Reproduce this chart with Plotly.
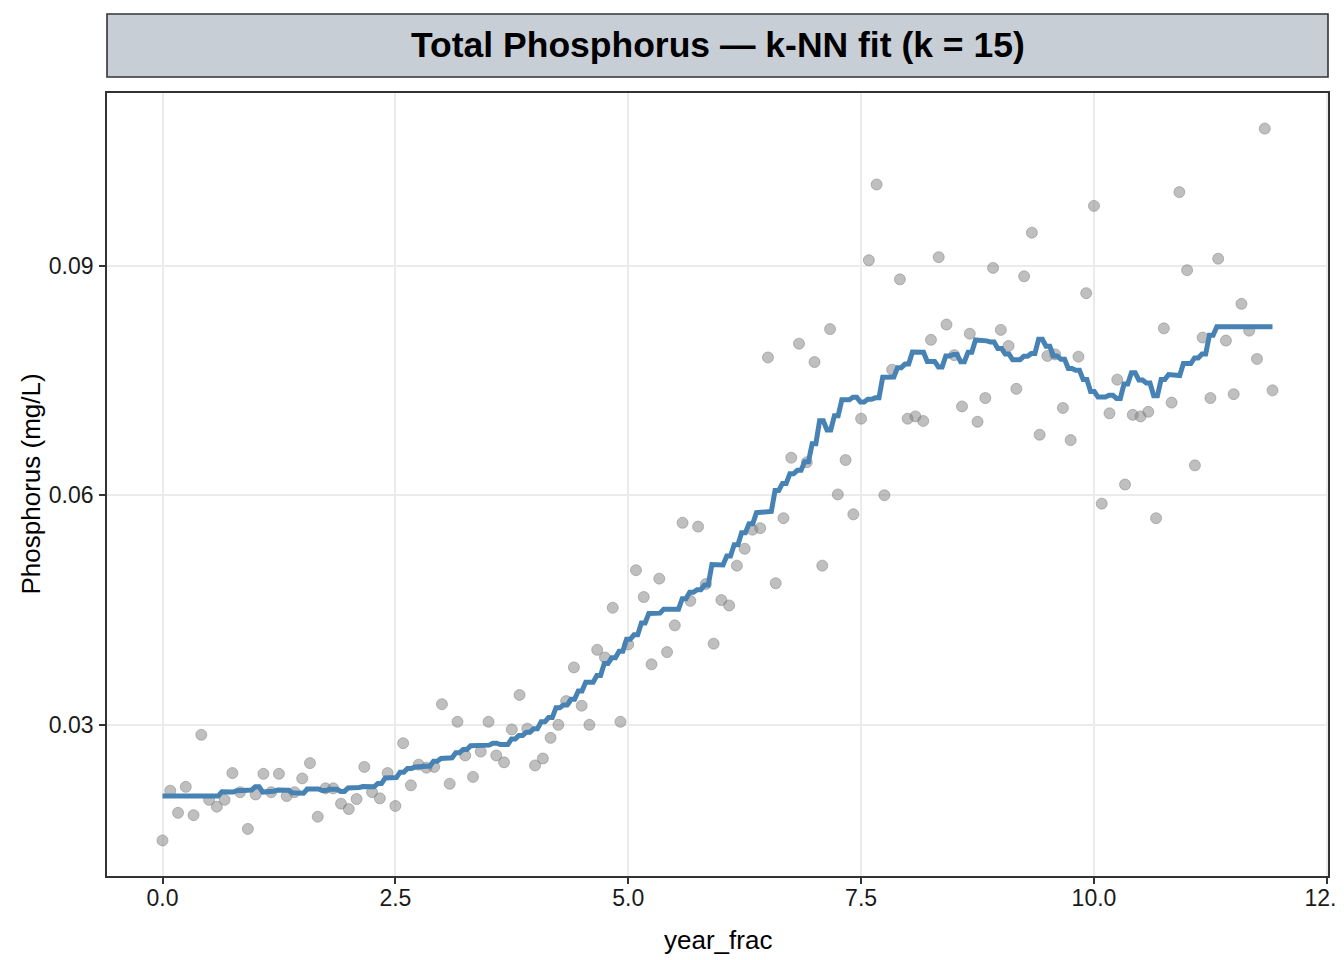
import numpy as np
import plotly.graph_objects as go

# Total phosphorus, monthly samples (mg/L)
phosphorus = [
    0.0149, 0.0214, 0.0185, 0.0219, 0.0182, 0.0287, 0.0202, 0.0193, 0.0202, 0.0237, 0.0212, 0.0164,
    0.0209, 0.0236, 0.0212, 0.0236, 0.0207, 0.0212, 0.0230, 0.0250, 0.0180, 0.0217, 0.0217, 0.0197,
    0.0190, 0.0203, 0.0245, 0.0212, 0.0204, 0.0237, 0.0194, 0.0276, 0.0221, 0.0248, 0.0244, 0.0245,
    0.0327, 0.0223, 0.0304, 0.0260, 0.0232, 0.0265, 0.0304, 0.0260, 0.0251, 0.0294, 0.0339, 0.0295,
    0.0247, 0.0256, 0.0283, 0.0300, 0.0331, 0.0375, 0.0325, 0.0300, 0.0398, 0.0388, 0.0453, 0.0304,
    0.0405, 0.0502, 0.0467, 0.0379, 0.0491, 0.0395, 0.0430, 0.0564, 0.0462, 0.0559, 0.0484, 0.0406,
    0.0463, 0.0456, 0.0508, 0.0530, 0.0555, 0.0557, 0.0780, 0.0485, 0.0570, 0.0649, 0.0798, 0.0643,
    0.0774, 0.0508, 0.0817, 0.0601, 0.0646, 0.0575, 0.0700, 0.0907, 0.1006, 0.0600, 0.0764, 0.0882,
    0.0700, 0.0703, 0.0697, 0.0803, 0.0911, 0.0823, 0.0783, 0.0716, 0.0811, 0.0696, 0.0727, 0.0897,
    0.0816, 0.0795, 0.0739, 0.0886, 0.0943, 0.0679, 0.0782, 0.0784, 0.0714, 0.0672, 0.0781, 0.0864,
    0.0978, 0.0589, 0.0707, 0.0751, 0.0614, 0.0705, 0.0703, 0.0709, 0.0570, 0.0818, 0.0721, 0.0996,
    0.0894, 0.0639, 0.0806, 0.0727, 0.0909, 0.0802, 0.0732, 0.0850, 0.0815, 0.0778, 0.1079, 0.0737,
]
# one sample per month, starting at 0
year_frac = np.arange(len(phosphorus)) / 12

x_ticks = [0, 2.5, 5, 7.5, 10, 12.5]
y_ticks = [0.03, 0.06, 0.09]
K = 15

y = np.array(phosphorus)

# k-NN regression (uniform weights) on a fine grid
grid = np.linspace(year_frac.min(), year_frac.max(), 300)
fit = []
for g in grid:
    idx = np.argsort(np.abs(year_frac - g), kind="stable")[:K]
    fit.append(y[idx].mean())

# ggplot-like 5% expansion
def expand(lo, hi, f=0.05):
    d = (hi - lo) * f
    return [lo - d, hi + d]

xr = expand(year_frac.min(), year_frac.max())
yr = expand(y.min(), y.max())

fig = go.Figure()
fig.add_trace(go.Scatter(
    x=year_frac, y=y, mode="markers",
    marker=dict(size=11, color="rgba(128,128,128,0.5)",
                line=dict(color="rgba(128,128,128,0.5)", width=1)),
    showlegend=False,
))
fig.add_trace(go.Scatter(
    x=grid, y=fit, mode="lines",
    line=dict(color="#4682B4", width=5),
    showlegend=False,
))

axis_common = dict(
    showline=True, mirror=True, linecolor="#333333", linewidth=1.6,
    showgrid=True, gridcolor="#EBEBEB", gridwidth=1.8,
    ticks="outside", ticklen=6, tickwidth=1.6, tickcolor="#333333",
    tickfont=dict(family="Liberation Sans, Arial, sans-serif", size=23, color="#1a1a1a"),
    ticklabeloverflow="allow",
    zeroline=False,
)

# the page body has an 8px margin, so the figure is 8px smaller than the window
fig.update_layout(
    width=1336, height=952,
    margin=dict(l=99, r=16, t=85, b=84, autoexpand=False),
    paper_bgcolor="white", plot_bgcolor="white",
    font=dict(family="Liberation Sans, Arial, sans-serif", color="black"),
    xaxis=dict(range=xr, tickvals=x_ticks, tickformat=".1f",
               ticklabelstandoff=-5, **axis_common),
    yaxis=dict(range=yr, tickvals=y_ticks, tickformat=".2f",
               ticklabelstandoff=1, **axis_common),
    shapes=[dict(type="rect", xref="paper", yref="paper",
                 x0=0, x1=1, y0=(876 - 77) / 783, y1=(876 - 14) / 783,
                 fillcolor="#C8CED6", line=dict(color="#333333", width=1.6),
                 layer="above")],
    annotations=[
        dict(text="<b>Total Phosphorus — k-NN fit (k = 15)</b>",
             xref="paper", yref="paper", x=0.5, y=(876 - 45) / 783,
             xanchor="center", yanchor="middle", showarrow=False,
             font=dict(size=35.5, color="black")),
        dict(text="year_frac", xref="paper", yref="paper",
             x=0.5, y=(876 - 940) / 783, xanchor="center", yanchor="middle",
             showarrow=False, font=dict(size=26, color="black")),
        dict(text="Phosphorus (mg/L)", xref="paper", yref="paper",
             x=(30 - 107) / 1221, y=0.5, xanchor="center", yanchor="middle",
             textangle=-90, showarrow=False, font=dict(size=26, color="black")),
    ],
)

fig.write_html("out.html")
